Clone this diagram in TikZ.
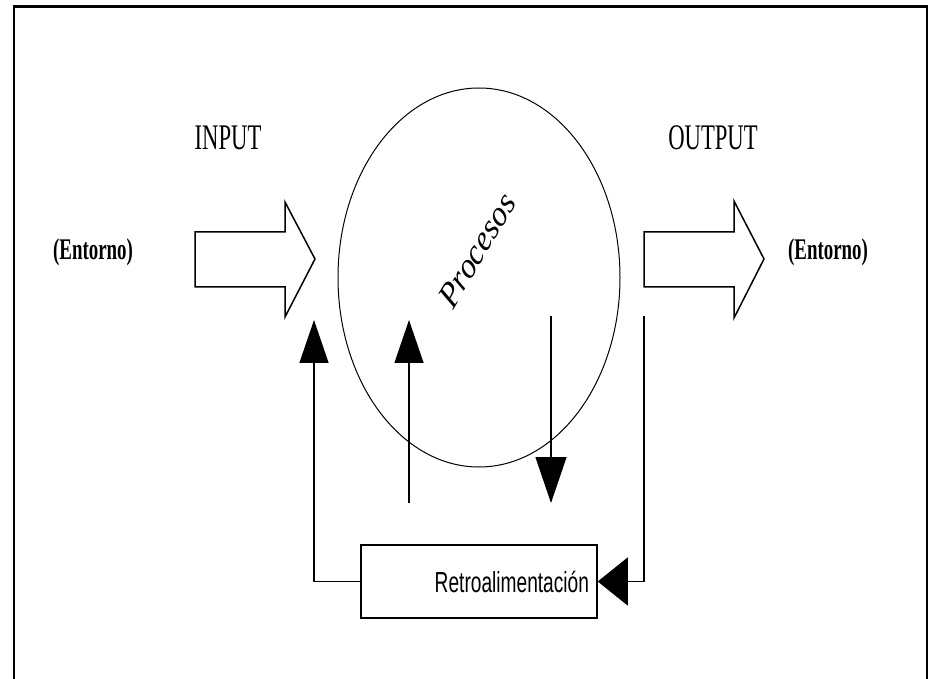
\documentclass[tikz,border=0pt]{standalone}
\usepackage{fontspec}
\usetikzlibrary{arrows.meta}
\newfontfamily\serifcond[FakeStretch=0.63]{Liberation Serif}
\newfontfamily\sanscond[FakeStretch=0.66]{Liberation Sans}
\newfontfamily\serifplain{Liberation Serif}

\begin{document}
\begin{tikzpicture}[x = 1pt, y = -1pt,
		label/.style = {font = \serifcond\fontsize{36}{40}\selectfont},
		env/.style = {font = \serifcond\bfseries\fontsize{30}{34}\selectfont},
		block/.style = {draw, line width = 1.5pt, line join = miter},
		feed/.style = {line width = 1.3pt},
		uptip/.style = {-{Triangle[length = 43pt, width = 29pt]}},
		downtip/.style = {-{Triangle[length = 46pt, width = 31pt]}},
		lefttip/.style = {-{Triangle[length = 30pt, width = 48pt]}}]
				\useasboundingbox (0,0) rectangle (930,679);
				% frame
				\draw [line width = 2pt] (14,679) -- (14,7) -- (927,7) -- (927,679);
				\draw [line width = 3pt] (13,7) -- (928,7);
				% process
				\draw [line width = 1pt] (479,277.5) ellipse [x radius = 141, y radius = 189.5];
				\node [font = \serifplain\itshape\fontsize{36}{40}\selectfont, xscale = 0.85, rotate = 55] (proc) at (477,250) {Procesos};
				% input and output
				\draw [block] (195,232) -- (285,232) -- (285,202) -- (315,259) -- (285,317) -- (285,287) -- (195,287) -- cycle;
				\draw [block] (644,232) -- (734,232) -- (734,201) -- (764,259) -- (734,318) -- (734,287) -- (644,287) -- cycle;
				\node [label] (input) at (228,138) {INPUT};
				\node [label] (output) at (713,138) {OUTPUT};
				\node [env] (envin) at (93,252) {(Entorno)};
				\node [env] (envout) at (828,252) {(Entorno)};
				% feedback
				\node [draw, line width = 1.5pt, minimum width = 236pt, minimum height = 73pt, inner xsep = 8pt,
					text width = 220pt, align = right, font = \sanscond\fontsize{29}{32}\selectfont] (retro) at (479,581.5) {Retroalimentación};
				\coordinate (fbin) at (314,320);
				\coordinate (fbout) at (644,316);
				\coordinate (uplo) at (409,503);
				\coordinate (uphi) at (409,320);
				\coordinate (dnhi) at (551,316);
				\coordinate (dnlo) at (551,503);
				\draw [feed, uptip] (retro.west) -| (fbin);
				\draw [feed, lefttip] (fbout) |- (retro.east);
				\draw [feed, uptip] (uplo) -- (uphi);
				\draw [feed, downtip] (dnhi) -- (dnlo);
		\end{tikzpicture}
\end{document}
